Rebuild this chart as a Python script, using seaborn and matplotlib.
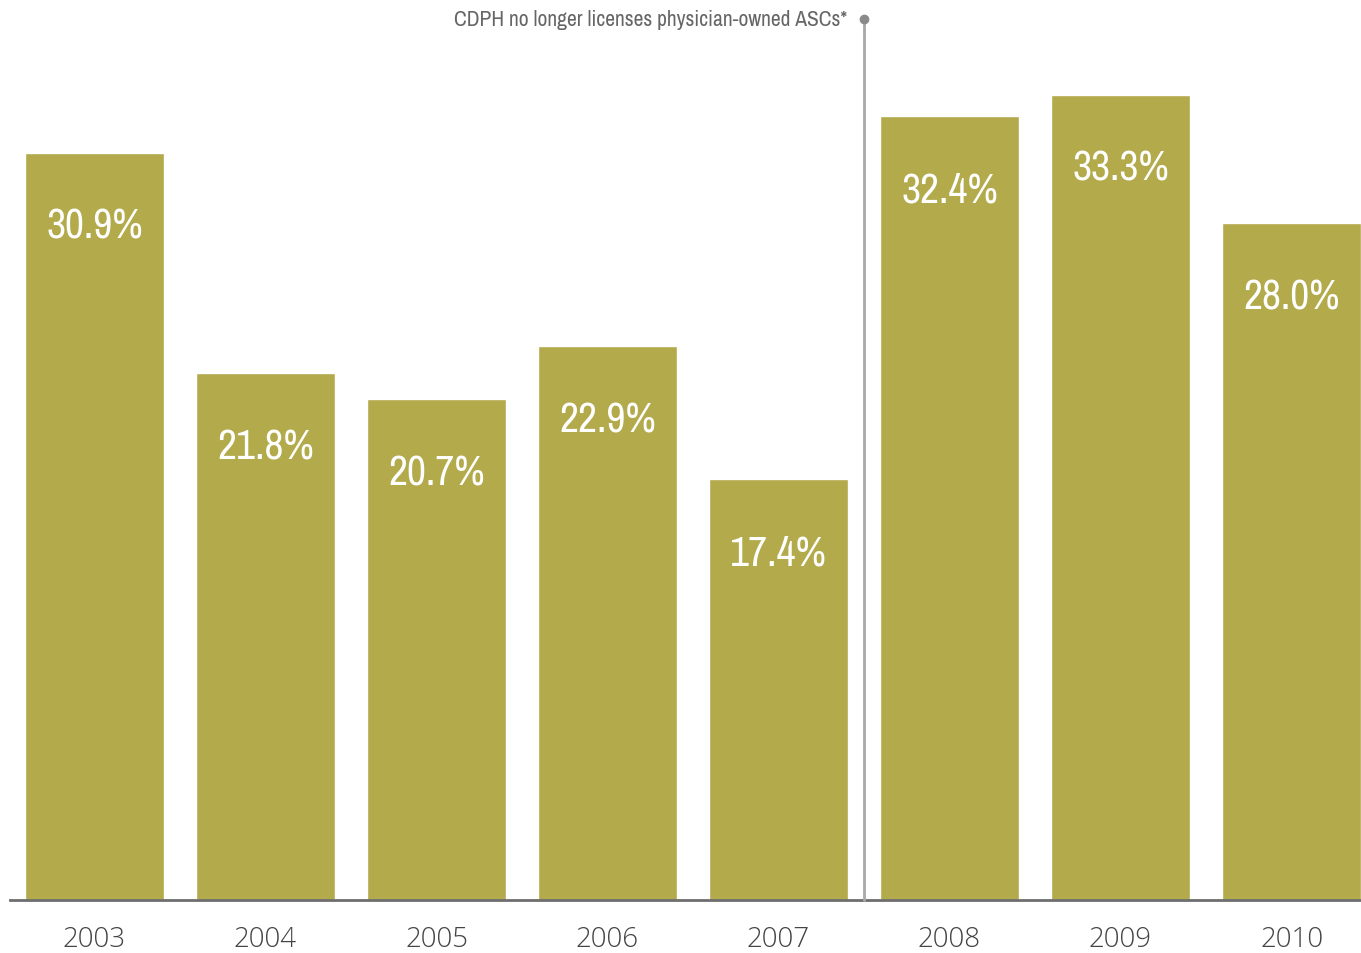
import numpy as np
import matplotlib
matplotlib.use('Agg')
import matplotlib.pyplot as plt
from matplotlib import font_manager
import pandas as pd
import seaborn as sns

years = ['2003', '2004', '2005', '2006', '2007', '2008', '2009', '2010']
share = [30.9, 21.8, 20.7, 22.9, 17.4, 32.4, 33.3, 28.0]
note_text = 'CDPH no longer licenses physician-owned ASCs*'

df = pd.DataFrame({'year': years, 'share': share})

sns.set_theme(style='white')
plt.rcParams['font.family'] = ['Open Sans', 'DejaVu Sans']

# look for a narrow face, the original uses a condensed type
narrow_names = sorted({f.name for f in font_manager.fontManager.ttflist
                       if 'Narrow' in f.name or 'Condensed' in f.name})
cond = [f.name for f in font_manager.fontManager.ttflist
        if f.stretch in ('condensed', 'semi-condensed', 'extra-condensed')
        or (isinstance(f.stretch, int) and f.stretch < 500)]
narrow = (narrow_names + sorted(set(cond)) + ['DejaVu Sans'])[:3]

fig = plt.figure(figsize=(13.61, 9.54), dpi=100)
ax = fig.add_axes([10/1361, 53/954, 1351/1361, 895/954])

sns.barplot(data=df, x='year', y='share', color='#b3aa4b', saturation=1,
            width=139/171, ax=ax)
ax.set_xlim(-0.494, 7.406)
ax.set_ylim(0, 37)

for i, v in enumerate(share):
    ax.text(i, v - 2.25, f'{v:.1f}%', ha='center', va='top', color='white',
            fontsize=30, family=narrow, stretch='condensed')

# divider between 2007 and 2008
top = (901 - 20) / 24.2
ax.plot([4.5, 4.5], [0, top], color='#a8a8a8', lw=2, zorder=3, clip_on=False)
ax.plot([4.5], [top], 'o', color='#8a8a8a', ms=6, zorder=4, clip_on=False)
ax.text(4.4, top, note_text, ha='right', va='center', color='#666666',
        fontsize=15.5, family=narrow, stretch='condensed')

for s in ['top', 'right', 'left']:
    ax.spines[s].set_visible(False)
ax.spines['bottom'].set_color('#6e6e6e')
ax.spines['bottom'].set_linewidth(2)
ax.set_yticks([])
ax.set_xlabel('')
ax.set_ylabel('')
ax.tick_params(axis='x', length=0, pad=18, labelsize=20, labelcolor='#444444')
for lab in ax.get_xticklabels():
    lab.set_fontweight('light')

fig.savefig('out.png', dpi=100)
